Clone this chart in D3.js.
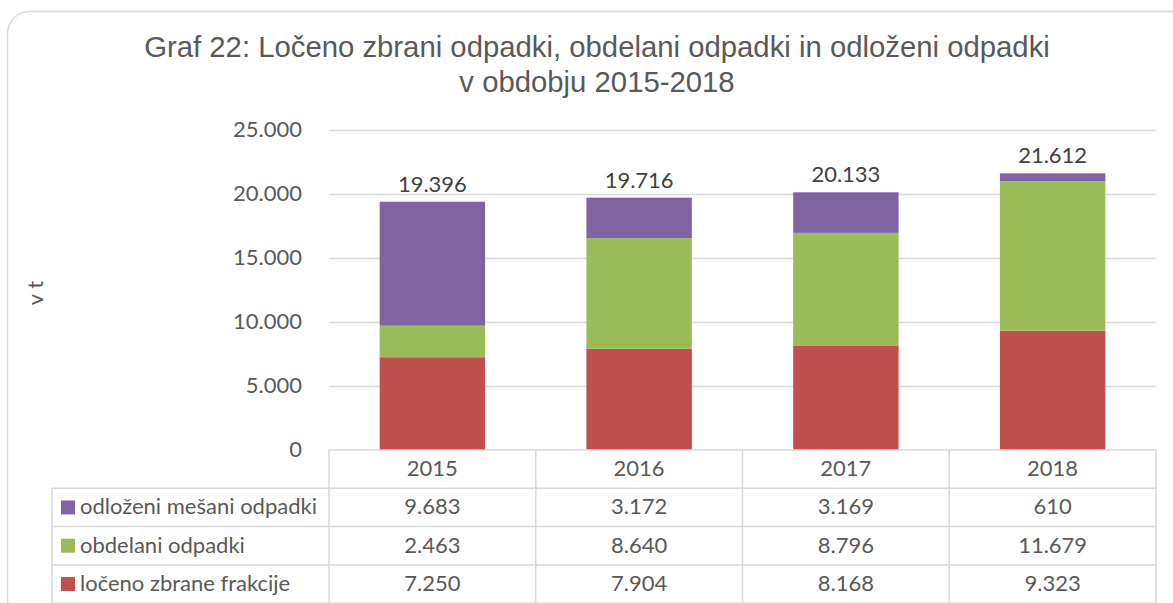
<!DOCTYPE html>
<html>
<head>
<meta charset="utf-8">
<script src="https://cdn.jsdelivr.net/npm/d3@7"></script>
<style>
  body { margin: 0; background: #fff; }
  svg text { font-family: Lato, "Open Sans", sans-serif; }
</style>
</head>
<body>
<svg id="chart" width="1173" height="603"></svg>
<script>
// data
var years = ["2015", "2016", "2017", "2018"];
var series = ["odloženi mešani odpadki", "obdelani odpadki", "ločeno zbrane frakcije"];
var odlozeni = [9683, 3172, 3169, 610];
var obdelani = [2463, 8640, 8796, 11679];
var loceno = [7250, 7904, 8168, 9323];
var totals = [19396, 19716, 20133, 21612];
var yTicks = [0, 5000, 10000, 15000, 20000, 25000];
var colors = { "odloženi mešani odpadki": "#8064A2", "obdelani odpadki": "#9BBB59", "ločeno zbrane frakcije": "#C0504D" };

var fmt = function(v) { return d3.format(",")(v).replace(/,/g, "."); };

var svg = d3.select("#chart");
var plotL = 329, plotR = 1156, plotT = 130, plotB = 450;
var fs = "22px";

// outer frame
svg.append("rect")
  .attr("x", 7.5).attr("y", 11.5)
  .attr("width", 1185).attr("height", 610)
  .attr("rx", 22)
  .attr("fill", "#fff")
  .attr("stroke", "#d9d9d9").attr("stroke-width", 1.5);

// title
svg.append("text")
  .attr("x", 597).attr("y", 57)
  .attr("text-anchor", "middle")
  .style("font-family", "'Liberation Sans', Arial, sans-serif")
  .style("font-size", "29.3px").style("fill", "#595959")
  .text("Graf 22: Ločeno zbrani odpadki, obdelani odpadki in odloženi odpadki");
svg.append("text")
  .attr("x", 597).attr("y", 92)
  .attr("text-anchor", "middle")
  .style("font-family", "'Liberation Sans', Arial, sans-serif")
  .style("font-size", "29.3px").style("fill", "#595959")
  .text("v obdobju 2015-2018");

var x = d3.scaleBand().domain(years).range([plotL, plotR]).paddingInner(0.49).paddingOuter(0.245);
var y = d3.scaleLinear().domain([0, 25000]).range([plotB, plotT]);

// grid
svg.append("g")
  .selectAll("line")
  .data(yTicks.filter(function(d) { return d > 0; }))
  .enter().append("line")
  .attr("x1", plotL).attr("x2", plotR)
  .attr("y1", function(d) { return Math.round(y(d)) + 0.5; })
  .attr("y2", function(d) { return Math.round(y(d)) + 0.5; })
  .attr("stroke", "#d9d9d9").attr("stroke-width", 1.3);

// y tick labels
svg.append("g")
  .selectAll("text")
  .data(yTicks)
  .enter().append("text")
  .attr("x", 302)
  .attr("y", function(d) { return y(d) + 7; })
  .attr("text-anchor", "end")
  .style("font-size", fs).style("fill", "#595959")
  .text(function(d) { return fmt(d); });

// axis title
svg.append("text")
  .attr("transform", "translate(43,293) rotate(-90)")
  .attr("text-anchor", "middle")
  .style("font-size", fs).style("fill", "#595959")
  .text("v t");

// stacked bars
var rows = years.map(function(yr, i) {
  return { year: yr, "ločeno zbrane frakcije": loceno[i], "obdelani odpadki": obdelani[i], "odloženi mešani odpadki": odlozeni[i] };
});
var stack = d3.stack().keys(["ločeno zbrane frakcije", "obdelani odpadki", "odloženi mešani odpadki"]);
var layers = stack(rows);

svg.append("g")
  .selectAll("g")
  .data(layers)
  .enter().append("g")
  .attr("fill", function(d) { return colors[d.key]; })
  .selectAll("rect")
  .data(function(d) { return d; })
  .enter().append("rect")
  .attr("x", function(d) { return x(d.data.year); })
  .attr("width", x.bandwidth())
  .attr("y", function(d) { return y(d[1]); })
  .attr("height", function(d) { return y(d[0]) - y(d[1]); });

// total labels
svg.append("g")
  .selectAll("text")
  .data(years)
  .enter().append("text")
  .attr("x", function(d) { return x(d) + x.bandwidth() / 2; })
  .attr("y", function(d, i) { return y(totals[i]) - 10; })
  .attr("text-anchor", "middle")
  .style("font-size", fs).style("fill", "#404040")
  .text(function(d, i) { return fmt(totals[i]); });

// data table
var tableL = 52, rowH = 38.3;
var tbl = svg.append("g").attr("stroke", "#d9d9d9").attr("stroke-width", 1.5);
var colX = years.map(function(d) { return x(d) - x.step() * x.paddingInner() / 2; }).concat([plotR]);
// verticals
colX.forEach(function(cx) {
  tbl.append("line").attr("x1", cx).attr("x2", cx).attr("y1", plotB).attr("y2", plotB + rowH * 4);
});
tbl.append("line").attr("x1", tableL).attr("x2", tableL).attr("y1", plotB + rowH).attr("y2", plotB + rowH * 4);
// horizontals
tbl.append("line").attr("x1", plotL).attr("x2", plotR).attr("y1", plotB).attr("y2", plotB);
[1, 2, 3, 4].forEach(function(k) {
  tbl.append("line").attr("x1", tableL).attr("x2", plotR).attr("y1", plotB + rowH * k).attr("y2", plotB + rowH * k);
});

// year headers
svg.append("g")
  .selectAll("text")
  .data(years)
  .enter().append("text")
  .attr("x", function(d) { return x(d) + x.bandwidth() / 2; })
  .attr("y", plotB + rowH / 2 + 7)
  .attr("text-anchor", "middle")
  .style("font-size", fs).style("fill", "#595959")
  .text(function(d) { return d; });

var tableData = [odlozeni, obdelani, loceno];
series.forEach(function(s, r) {
  var cy = plotB + rowH * (r + 1) + rowH / 2;
  svg.append("rect")
    .attr("x", 61).attr("y", cy - 7).attr("width", 14).attr("height", 14)
    .attr("fill", colors[s]);
  svg.append("text")
    .attr("x", 80).attr("y", cy + 7)
    .style("font-size", fs).style("fill", "#595959")
    .text(s);
  svg.append("g")
    .selectAll("text")
    .data(tableData[r])
    .enter().append("text")
    .attr("x", function(d, i) { return x(years[i]) + x.bandwidth() / 2; })
    .attr("y", cy + 7)
    .attr("text-anchor", "middle")
    .style("font-size", fs).style("fill", "#595959")
    .text(function(d) { return fmt(d); });
});
</script>
</body>
</html>
